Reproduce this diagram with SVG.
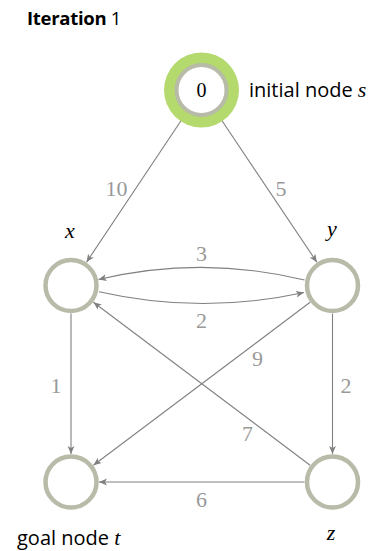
<svg xmlns="http://www.w3.org/2000/svg" width="374" height="551" viewBox="0 0 374 551">
<style>
.ring{fill:#fff;stroke:#b7bba8;stroke-width:4.5}
.edge{fill:none;stroke:#808080;stroke-width:1.1;marker-end:url(#arr)}
.w{font-family:"Liberation Serif",serif;font-size:22px;fill:#999;text-anchor:middle}
.v{font-family:"Liberation Serif",serif;font-size:22px;font-style:italic;fill:#000;text-anchor:middle}
.s{font-family:"Open Sans","Noto Sans",sans-serif;font-size:20px;fill:#000}
</style>
<defs>
<marker id="arr" markerUnits="userSpaceOnUse" markerWidth="10" markerHeight="8" refX="8" refY="4" orient="auto" viewBox="0 0 10 8">
<path d="M0,0.6 L8,4 L0,7.4 L2,4 z" fill="#808080"/>
</marker>
</defs>
<text class="s" x="27" y="25" style="font-size:18.5px;letter-spacing:-0.3px"><tspan font-weight="bold">Iteration</tspan> 1</text>
<g id="connectors">
<line class="edge" x1="186.5" y1="112.5" x2="86.5" y2="262.2"/>
<line class="edge" x1="216.5" y1="112.5" x2="316.9" y2="262.2"/>
<path class="edge" d="M304.5,280 Q201.5,255 98.5,279.5"/>
<path class="edge" d="M99,291.7 Q201.5,315 304,292.5"/>
<line class="edge" x1="71" y1="313.5" x2="71" y2="454"/>
<line class="edge" x1="332.5" y1="313.5" x2="332.5" y2="454"/>
<line class="edge" x1="310.1" y1="302.3" x2="93.4" y2="465.2"/>
<line class="edge" x1="310.1" y1="465.2" x2="93.4" y2="302.3"/>
<line class="edge" x1="304.5" y1="482" x2="99" y2="482"/>
<text class="w" x="116.5" y="195.5">10</text>
<text class="w" x="281" y="195.5">5</text>
<text class="w" x="201.5" y="260.5">3</text>
<text class="w" x="201.5" y="327.5">2</text>
<text class="w" x="56" y="392.5">1</text>
<text class="w" x="346" y="392.5">2</text>
<text class="w" x="257.5" y="365.5">9</text>
<text class="w" x="247.5" y="441">7</text>
<text class="w" x="201.5" y="506.5">6</text>
</g>
<g id="node-s">
<circle cx="201.5" cy="90" r="37.5" fill="#b4d96c"/>
<circle class="ring" cx="201.5" cy="90" r="25" style="stroke-width:4"/>
<text x="201.5" y="97" font-family="Liberation Serif,serif" font-size="20" text-anchor="middle" fill="#000">0</text>
<text class="s" x="249" y="97">initial node <tspan font-family="Liberation Serif,serif" font-style="italic" font-size="22">s</tspan></text>
</g>
<g id="node-x">
<circle class="ring" cx="71" cy="285.5" r="25.5"/>
<text class="v" x="70" y="238">x</text>
</g>
<g id="node-y">
<circle class="ring" cx="332.5" cy="285.5" r="25.5"/>
<text class="v" x="332" y="236">y</text>
</g>
<g id="node-t">
<circle class="ring" cx="71" cy="482" r="25.5"/>
<text class="s" x="17" y="545">goal node <tspan font-family="Liberation Serif,serif" font-style="italic" font-size="22">t</tspan></text>
</g>
<g id="node-z">
<circle class="ring" cx="332.5" cy="482" r="25.5"/>
<text class="v" x="331" y="540">z</text>
</g>
</svg>
